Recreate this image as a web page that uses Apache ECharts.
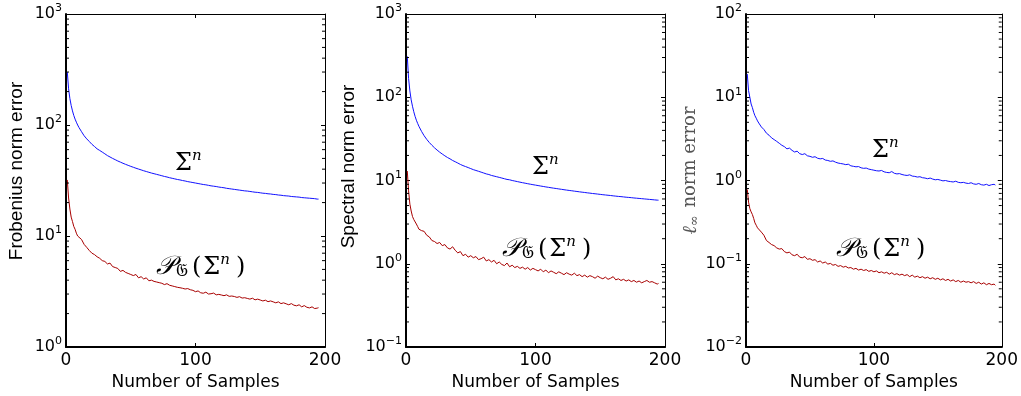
<!DOCTYPE html>
<html><head><meta charset="utf-8">
<script src="https://cdn.jsdelivr.net/npm/echarts@6/dist/echarts.min.js"></script>
<style>html,body{margin:0;padding:0;background:#fff}#c{width:1021px;height:396px}</style>
</head><body><div id="c"></div>
<script>
// Number of samples
const xs = [1,2,3,4,5,6,7,8,9,10,
12,14,16,18,20,22,24,26,28,30,
32,34,36,38,40,42,44,46,48,50,
52,54,56,58,60,62,64,66,68,70,
72,74,76,78,80,82,84,86,88,90,
92,94,96,98,100,102,104,106,108,110,
112,114,116,118,120,122,124,126,128,130,
132,134,136,138,140,142,144,146,148,150,
152,154,156,158,160,162,164,166,168,170,
172,174,176,178,180,182,184,186,188,190,
192,194,195];
// Frobenius norm error
const frobSigma = [300,212,173,150,134,122,113,106,100,95,
87,80,75,71,67,64,61,59,57,55,
53,51.5,50,48.7,47.4,46.3,45.2,44.2,43.3,42.4,
41.6,40.8,40.1,39.4,38.7,38.1,37.5,36.9,36.4,35.9,
35.4,34.9,34.4,34.0,33.5,33.1,32.7,32.3,32.0,31.6,
31.3,30.9,30.6,30.3,30.0,29.7,29.4,29.1,28.9,28.6,
28.3,28.1,27.9,27.6,27.4,27.2,26.9,26.7,26.5,26.3,
26.1,25.9,25.7,25.5,25.4,25.2,25.0,24.8,24.7,24.5,
24.3,24.2,24.0,23.9,23.7,23.6,23.4,23.3,23.1,23.0,
22.9,22.7,22.6,22.5,22.4,22.2,22.1,22.0,21.9,21.8,
21.7,21.5,21.5];
const frobProj = [32,22,17.5,14.8,13.5,12.2,11.5,10.6,10.0,9.7,
9.3,8.4,7.9,7.4,7.0,6.8,6.5,6.3,6.0,5.9,
5.6,5.7,5.3,5.2,5.1,4.8,4.9,4.7,4.6,4.5,
4.4,4.5,4.2,4.3,4.1,4.2,3.95,4.0,3.9,3.85,
3.8,3.75,3.65,3.72,3.6,3.55,3.5,3.45,3.42,3.38,
3.33,3.36,3.28,3.24,3.15,3.2,3.08,3.05,3.12,3.0,
3.02,3.06,2.95,2.98,2.94,2.9,2.95,2.86,2.88,2.85,
2.8,2.84,2.76,2.78,2.74,2.7,2.75,2.66,2.7,2.65,
2.6,2.64,2.56,2.6,2.55,2.5,2.55,2.46,2.5,2.45,
2.4,2.46,2.38,2.35,2.4,2.3,2.36,2.28,2.25,2.3,
2.22,2.24,2.26];
// Spectral norm error
const specSigma = [310,168,119,93,78,67,59,53,48.5,44.7,
38.9,34.5,31.2,28.6,26.5,24.7,23.2,21.9,20.8,19.8,
18.9,18.2,17.4,16.8,16.2,15.6,15.1,14.7,14.3,13.9,
13.5,13.2,12.9,12.6,12.3,12.0,11.8,11.5,11.3,11.1,
10.9,10.7,10.5,10.3,10.2,10.0,9.85,9.7,9.55,9.41,
9.28,9.15,9.03,8.91,8.8,8.69,8.58,8.48,8.37,8.28,
8.18,8.09,8.01,7.92,7.84,7.75,7.67,7.6,7.53,7.45,
7.38,7.31,7.24,7.18,7.11,7.05,6.98,6.93,6.87,6.81,
6.75,6.7,6.65,6.6,6.54,6.49,6.44,6.4,6.35,6.3,
6.26,6.22,6.17,6.13,6.09,6.05,6.01,5.97,5.93,5.89,
5.85,5.81,5.8];
const specProj = [13,7.5,5.2,4.3,3.7,3.4,3.3,3.0,2.8,2.6,
2.5,2.45,2.2,2.1,1.9,1.85,1.75,1.8,1.65,1.7,
1.55,1.5,1.6,1.45,1.35,1.4,1.25,1.3,1.2,1.25,
1.18,1.22,1.12,1.15,1.2,1.08,1.12,1.05,1.1,1.0,
1.05,0.98,0.95,1.02,0.92,0.96,0.9,0.93,0.88,0.91,
0.86,0.9,0.84,0.88,0.85,0.82,0.86,0.8,0.84,0.78,
0.82,0.79,0.76,0.8,0.77,0.74,0.78,0.75,0.73,0.77,
0.72,0.74,0.7,0.73,0.69,0.72,0.7,0.67,0.71,0.68,
0.66,0.69,0.65,0.67,0.7,0.64,0.66,0.63,0.65,0.62,
0.64,0.61,0.63,0.6,0.62,0.59,0.61,0.63,0.6,0.61,
0.59,0.57,0.58];
// l-infinity norm error
const linfSigma = [19,12,10,8.3,7.5,6.6,6.0,5.6,5.2,4.9,
4.4,4.1,3.7,3.5,3.25,3.1,2.95,2.8,2.65,2.55,
2.4,2.45,2.3,2.2,2.25,2.1,2.05,2.1,1.98,1.95,
1.9,1.93,1.85,1.82,1.84,1.76,1.74,1.7,1.72,1.66,
1.62,1.6,1.58,1.55,1.57,1.5,1.48,1.46,1.47,1.42,
1.4,1.41,1.37,1.35,1.33,1.31,1.3,1.32,1.27,1.25,
1.24,1.28,1.22,1.2,1.21,1.18,1.16,1.15,1.17,1.13,
1.12,1.1,1.11,1.08,1.07,1.05,1.07,1.04,1.02,1.03,
1.01,0.99,1.0,0.98,0.97,0.96,0.98,0.95,0.94,0.95,
0.93,0.92,0.94,0.91,0.9,0.92,0.89,0.88,0.9,0.87,
0.89,0.9,0.88];
const linfProj = [0.78,0.55,0.46,0.42,0.39,0.35,0.31,0.29,0.27,0.26,
0.24,0.22,0.19,0.18,0.17,0.165,0.155,0.15,0.152,0.14,
0.135,0.138,0.128,0.125,0.13,0.12,0.118,0.122,0.113,0.115,
0.11,0.112,0.105,0.108,0.102,0.105,0.099,0.101,0.096,0.098,
0.093,0.095,0.091,0.093,0.089,0.09,0.086,0.088,0.084,0.086,
0.083,0.085,0.081,0.083,0.08,0.082,0.078,0.08,0.077,0.079,
0.075,0.078,0.074,0.076,0.073,0.075,0.072,0.074,0.07,0.073,
0.069,0.071,0.068,0.07,0.067,0.069,0.066,0.068,0.065,0.067,
0.064,0.066,0.063,0.065,0.062,0.064,0.061,0.063,0.06,0.062,
0.06,0.061,0.059,0.061,0.058,0.06,0.057,0.059,0.056,0.058,
0.056,0.057,0.055];

const xTickValues = [0, 100, 200];
const minorMultipliers = [2, 3, 4, 5, 6, 7, 8, 9];
const panels = [
  {name: 'Frobenius norm error', min: 1, max: 1000, sigma: frobSigma, proj: frobProj},
  {name: 'Spectral norm error', min: 0.1, max: 1000, sigma: specSigma, proj: specProj},
  {name: 'linf', min: 0.01, max: 100, sigma: linfSigma, proj: linfProj}
];
const lefts = [66, 406, 746];
const nameGaps = [40, 48, 43];
const nameShift = [19, 28, 20];
const W = 259, TOP = 14, H = 339;
const FONT = '"Liberation Sans", Arial, Helvetica, sans-serif';
const WIDE = '"DejaVu Sans", "Liberation Sans", sans-serif';
const SERIF = '"DejaVu Serif", "Liberation Serif", serif';

function supFmt(v) {
  const e = Math.round(Math.log10(v));
  return '{b|10}{s|' + (e < 0 ? '\u2212' + (-e) : e) + '}';
}
const tickRich = {
  b: {fontSize: 16, fontFamily: WIDE, color: '#000'},
  s: {fontSize: 11, fontFamily: WIDE, color: '#000', padding: [0, 0, 11, 0]}
};

const grid = [], xAxis = [], yAxis = [], series = [];
panels.forEach((p, i) => {
  grid.push({left: lefts[i], top: TOP, width: W, height: H, containLabel: false});
  xAxis.push({
    type: 'value', gridIndex: i, min: 0, max: 200, interval: 100, position: 'bottom',
    name: 'Number of Samples', nameLocation: 'middle', nameGap: 27,
    nameTextStyle: {fontSize: 17, fontFamily: WIDE, color: '#000'},
    axisLine: {show: true, onZero: false, lineStyle: {color: '#000', width: 2}},
    axisTick: {show: true, inside: true, length: 4, lineStyle: {color: '#000'}},
    axisLabel: {fontSize: 17, fontFamily: WIDE, color: '#000', margin: 5,
      formatter: v => xTickValues.includes(v) ? String(v) : ''},
    splitLine: {show: false}
  });
  xAxis.push({
    type: 'value', gridIndex: i, min: 0, max: 200, interval: 100, position: 'top',
    axisLine: {show: true, onZero: false, lineStyle: {color: '#000', width: 1}},
    axisTick: {show: true, inside: true, length: 4, lineStyle: {color: '#000'}},
    axisLabel: {show: false}, splitLine: {show: false}
  });
  const nameCfg = i < 2 ? {
    name: p.name,
    nameTextStyle: {fontSize: 19, fontFamily: FONT, color: '#000', padding: [0, 0, 0, nameShift[i]]}
  } : {
    name: '{l|\u2113}{s|\u221e}{a| norm error}',
    nameTextStyle: {fontSize: 18, fontFamily: SERIF, color: '#555', padding: [0, 0, 0, nameShift[i]], rich: {
      l: {fontSize: 20, fontFamily: SERIF, fontStyle: 'italic', color: '#555'},
      s: {fontSize: 13, fontFamily: SERIF, color: '#555', padding: [9, 2, 0, 0]},
      a: {fontSize: 18, fontFamily: SERIF, color: '#555'}
    }}
  };
  yAxis.push(Object.assign({
    type: 'log', logBase: 10, gridIndex: i, min: p.min, max: p.max, position: 'left',
    nameLocation: 'middle', nameGap: nameGaps[i],
    axisLine: {show: true, onZero: false, lineStyle: {color: '#000', width: 2}},
    axisTick: {show: true, inside: true, length: 4, lineStyle: {color: '#000'}},
    axisLabel: {formatter: supFmt, rich: tickRich, margin: 4},
    splitLine: {show: false}
  }, nameCfg));
  yAxis.push({
    type: 'log', logBase: 10, gridIndex: i, min: p.min, max: p.max, position: 'right',
    axisLine: {show: true, onZero: false, lineStyle: {color: '#000', width: 1}},
    axisTick: {show: true, inside: true, length: 4, lineStyle: {color: '#000'}},
    axisLabel: {show: false}, splitLine: {show: false}
  });
  // log-spaced minor ticks (2..9 within each decade) on left and right edges
  const minors = [];
  for (let e = Math.round(Math.log10(p.min)); e < Math.round(Math.log10(p.max)); e++) {
    minorMultipliers.forEach(m => minors.push(m * Math.pow(10, e)));
  }
  series.push({
    type: 'custom', xAxisIndex: 2 * i, yAxisIndex: 2 * i, silent: true, clip: false, z: 5,
    data: minors.map(v => [0, v]),
    renderItem: (params, api) => {
      const v = api.value(1);
      const l = api.coord([0, v]);
      const r = api.coord([200, v]);
      return {type: 'group', children: [
        {type: 'line', shape: {x1: l[0], y1: l[1], x2: l[0] + 3, y2: l[1]}, style: {stroke: '#000', lineWidth: 1}},
        {type: 'line', shape: {x1: r[0] - 3, y1: r[1], x2: r[0], y2: r[1]}, style: {stroke: '#000', lineWidth: 1}}
      ]};
    }
  });
  series.push({
    type: 'line', xAxisIndex: 2 * i, yAxisIndex: 2 * i, showSymbol: false, symbol: 'none',
    data: xs.map((x, k) => [x, p.sigma[k]]), lineStyle: {color: '#1010ff', width: 1}, z: 3
  });
  series.push({
    type: 'line', xAxisIndex: 2 * i, yAxisIndex: 2 * i, showSymbol: false, symbol: 'none',
    data: xs.map((x, k) => [x, p.proj[k]]), lineStyle: {color: '#a80000', width: 1}, z: 3
  });
});

const annRich = {
  m: {fontSize: 24, fontFamily: SERIF, color: '#000'},
  q: {fontSize: 24, fontFamily: SERIF, color: '#000', padding: [0, 2, 0, 2]},
  n: {fontSize: 15, fontFamily: SERIF, fontStyle: 'italic', color: '#000', padding: [0, 4, 14, 0]},
  p: {fontSize: 26, fontFamily: SERIF, fontStyle: 'italic', color: '#000'},
  g: {fontSize: 17, fontFamily: SERIF, color: '#000', padding: [8, 2, 0, 1]}
};
const sigmaText = '{m|\u03a3}{n|n}';
const projText = '{p|\ud835\udcab}{g|\ud835\udd0a}{q|(}{m|\u03a3}{n|n}{q|)}';
const labelPos = [
  {sx: 175, sy: 149, px: 156, py: 253},
  {sx: 532, sy: 153, px: 502, py: 235},
  {sx: 872, sy: 136, px: 836, py: 235}
];
const graphic = [];
labelPos.forEach(l => {
  graphic.push({type: 'text', left: l.sx, top: l.sy, style: {text: sigmaText, rich: annRich}});
  graphic.push({type: 'text', left: l.px, top: l.py, style: {text: projText, rich: annRich}});
});

const chart = echarts.init(document.getElementById('c'), null, {renderer: 'canvas'});
chart.setOption({animation: false, backgroundColor: '#fff', grid, xAxis, yAxis, series, graphic});
</script></body></html>
